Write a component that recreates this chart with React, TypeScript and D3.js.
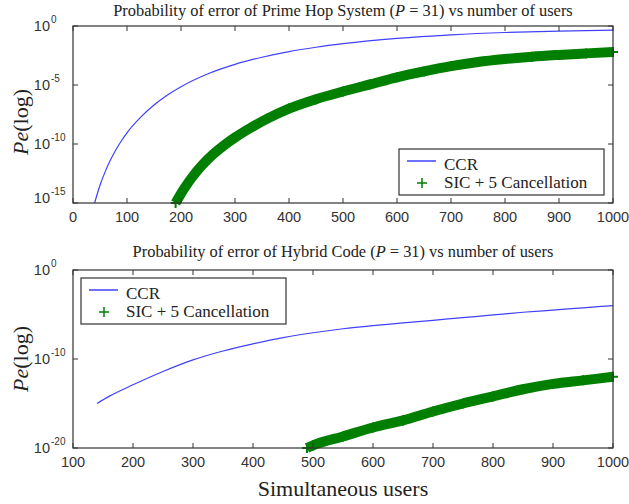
import React from 'react';
import * as d3 from 'd3';

// top panel: Prime Hop System (values are log10 Pe)
const topCcrUsers = [40, 50, 60, 70, 80, 90, 100, 125, 150, 175, 200, 250, 300, 350, 400, 450, 500, 600, 700, 800, 900, 1000];
const topCcrLog = [-15, -13.5, -12.3, -11.3, -10.45, -9.7, -9.05, -7.75, -6.7, -5.85, -5.15, -4.05, -3.25, -2.65, -2.17, -1.8, -1.5, -1.05, -0.75, -0.55, -0.43, -0.35];
const topSicUsers = [190, 200, 210, 220, 240, 260, 280, 300, 330, 360, 400, 450, 500, 550, 600, 650, 700, 750, 800, 850, 900, 950, 1000];
const topSicLog = [-15, -14.2, -13.5, -12.85, -11.75, -10.85, -10.1, -9.45, -8.6, -7.85, -7.0, -6.2, -5.55, -4.95, -4.35, -3.85, -3.4, -3.05, -2.8, -2.6, -2.45, -2.32, -2.2];

// bottom panel: Hybrid Code
const botCcrUsers = [140, 160, 200, 250, 300, 350, 400, 450, 500, 550, 600, 650, 700, 750, 800, 850, 900, 950, 1000];
const botCcrLog = [-15, -14.2, -12.9, -11.4, -10.1, -9.1, -8.3, -7.6, -7.05, -6.6, -6.25, -5.95, -5.65, -5.35, -5.05, -4.75, -4.5, -4.25, -4.0];
const botSicUsers = [490, 500, 550, 600, 650, 700, 750, 800, 850, 900, 950, 1000];
const botSicLog = [-20, -19.7, -18.7, -17.7, -16.9, -15.9, -15.0, -14.2, -13.4, -12.8, -12.4, -12.0];

const topXTicks = [0, 100, 200, 300, 400, 500, 600, 700, 800, 900, 1000];
const topYExp = [0, -5, -10, -15];
const botXTicks = [100, 200, 300, 400, 500, 600, 700, 800, 900, 1000];
const botYExp = [0, -10, -20];

const BLUE = '#4040ff';
const GREEN = '#007f00';
const AXIS = '#333';

type PanelProps = {
  top: number;
  bottom: number;
  titleY: number;
  labelY: number;
  xDomain: [number, number];
  yMinExp: number;
  xTicks: number[];
  yExp: number[];
  ccrX: number[];
  ccrY: number[];
  sicX: number[];
  sicY: number[];
  title: React.ReactNode;
  legend: { x: number; y: number };
};

function Panel(p: PanelProps) {
  const left = 73;
  const right = 613;
  const x = d3.scaleLinear().domain(p.xDomain).range([left, right]);
  const y = d3.scaleLog().domain([Math.pow(10, p.yMinExp), 1]).range([p.bottom, p.top]);

  const ccr = p.ccrX.map((u, i) => [u, Math.pow(10, p.ccrY[i])] as [number, number]);
  const sic = p.sicX.map((u, i) => [u, Math.pow(10, p.sicY[i])] as [number, number]);
  const line = d3
    .line<[number, number]>()
    .x((d) => x(d[0]))
    .y((d) => y(d[1]))
    .curve(d3.curveMonotoneX);

  const plus = 'M-5,0H5M0,-5V5';
  const tl = 5;

  return (
    <g>
      <text x={343} y={p.titleY} textAnchor="middle" fontFamily="Liberation Serif" fontSize={16.4} fill="#222">
        {p.title}
      </text>
      {/* curves */}
      <path d={line(ccr) || ''} fill="none" stroke={BLUE} strokeWidth={1.2} />
      <path d={line(sic) || ''} fill="none" stroke={GREEN} strokeWidth={10} />
      {sic.map((d, i) => (
        <path key={i} d={plus} transform={`translate(${x(d[0])},${y(d[1])})`} stroke={GREEN} strokeWidth={2} />
      ))}
      {/* box */}
      <rect x={left} y={p.top} width={right - left} height={p.bottom - p.top} fill="none" stroke={AXIS} strokeWidth={1.2} />
      {p.xTicks.map((t) => (
        <g key={t}>
          <line x1={x(t)} x2={x(t)} y1={p.bottom} y2={p.bottom - tl} stroke={AXIS} />
          <line x1={x(t)} x2={x(t)} y1={p.top} y2={p.top + tl} stroke={AXIS} />
          <text x={x(t)} y={p.bottom + 19} textAnchor="middle" fontFamily="Liberation Sans" fontSize={14.5} fill="#333">
            {t}
          </text>
        </g>
      ))}
      {p.yExp.map((e) => {
        const yy = y(Math.pow(10, e));
        const shift = e === -15 ? -5 : 0;
        return (
          <g key={e}>
            <line x1={left} x2={left + tl} y1={yy} y2={yy} stroke={AXIS} />
            <line x1={right} x2={right - tl} y1={yy} y2={yy} stroke={AXIS} />
            <text x={50} y={yy + 5 + shift} textAnchor="end" fontFamily="Liberation Sans" fontSize={14.5} fill="#333">
              10
            </text>
            <text x={51} y={yy - 3 + shift} fontFamily="Liberation Sans" fontSize={10} fill="#333">
              {e}
            </text>
          </g>
        );
      })}
      <text
        transform={`translate(28,${p.labelY}) rotate(-90)`}
        textAnchor="middle"
        fontFamily="Liberation Serif"
        fontSize={22}
        fill="#222"
      >
        <tspan fontStyle="italic">Pe</tspan>(log)
      </text>
      {/* legend */}
      <g transform={`translate(${p.legend.x},${p.legend.y})`}>
        <rect x={0} y={0} width={205} height={46} fill="#fff" stroke={AXIS} strokeWidth={1.2} />
        <line x1={8} x2={37} y1={12} y2={12} stroke={BLUE} strokeWidth={1.5} />
        <text x={45} y={20.5} fontFamily="Liberation Serif" fontSize={17} fill="#222">CCR</text>
        <path d={plus} transform="translate(23,34)" stroke={GREEN} strokeWidth={1.5} />
        <text x={45} y={39} fontFamily="Liberation Serif" fontSize={17} fill="#222">SIC + 5 Cancellation</text>
      </g>
    </g>
  );
}

export default function App() {
  return (
    <svg width={629} height={504} style={{ position: 'absolute', left: 0, top: 0, background: '#fff' }}>
      <Panel
        top={26}
        bottom={203}
        titleY={16}
        labelY={122}
        xDomain={[0, 1000]}
        yMinExp={-15}
        xTicks={topXTicks}
        yExp={topYExp}
        ccrX={topCcrUsers}
        ccrY={topCcrLog}
        sicX={topSicUsers}
        sicY={topSicLog}
        title={<>Probability of error of Prime Hop System (<tspan fontStyle="italic">P</tspan> = 31) vs number of users</>}
        legend={{ x: 399, y: 149 }}
      />
      <Panel
        top={270}
        bottom={448}
        titleY={257}
        labelY={359}
        xDomain={[100, 1000]}
        yMinExp={-20}
        xTicks={botXTicks}
        yExp={botYExp}
        ccrX={botCcrUsers}
        ccrY={botCcrLog}
        sicX={botSicUsers}
        sicY={botSicLog}
        title={<>Probability of error of Hybrid Code (<tspan fontStyle="italic">P</tspan> = 31) vs number of users</>}
        legend={{ x: 81, y: 278 }}
      />
      <text x={343} y={496} textAnchor="middle" fontFamily="Liberation Serif" fontSize={22} fill="#222">
        Simultaneous users
      </text>
    </svg>
  );
}
